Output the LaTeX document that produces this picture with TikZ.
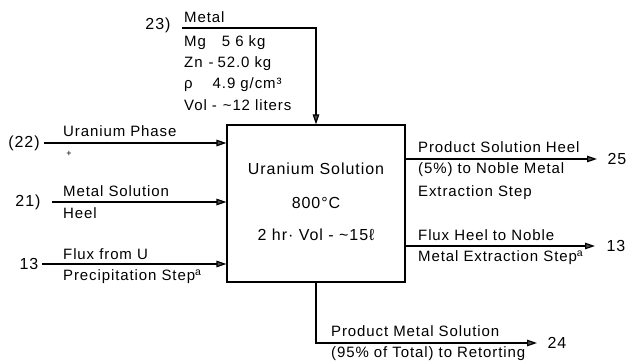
\documentclass[tikz,border=0pt]{standalone}
\usepackage{fontspec}
\setmainfont[LetterSpace=6]{Liberation Sans}
\usetikzlibrary{arrows.meta}
\begin{document}
\begin{tikzpicture}[x=1pt,y=1pt,
  every node/.style={font=\fontsize{15}{17}\selectfont, inner sep=0pt},
  lbl/.style={anchor=base west},
  num/.style={anchor=center, font=\fontsize{16}{18}\selectfont},
  boxtext/.style={font=\fontsize{16}{18}\selectfont},
  flow/.style={line width=1.2pt, -{Triangle[length=10pt,width=6.5pt,fill=black!70]}},
  procbox/.style={draw, line width=1.1pt, minimum width=178pt, minimum height=157pt}]
\useasboundingbox (0,0) rectangle (633,-363);
% process box
\node[procbox] (box) at (316,-203.5) {};
\node[boxtext] (t1) at (316,-169) {Uranium Solution};
\node[boxtext] (t2) at (316,-203) {800°C};
\node[boxtext] (t3) at (316,-235) {2 hr· Vol - \textasciitilde15ℓ};
% top input (23)
\node[num] (n23) at (158,-25) {23)};
\coordinate (m0) at (182,-28);
\draw[flow] (m0) -| (box.north);
\node[lbl] (mt) at (184,-23) {Metal};
\node[lbl] (mg) at (184,-47) {Mg\hspace{16pt}5 6 kg};
\node[lbl] (zn) at (184,-68) {Zn\hspace{6pt}-\hspace{4pt}52.0 kg};
\node[lbl] (rho) at (184,-89) {ρ\hspace{20pt}4.9 g/cm³};
\node[lbl] (vol) at (184,-111) {Vol\hspace{5pt}-\hspace{6pt}\textasciitilde12 liters};
% left inputs
\node[num] (n22) at (24,-143) {(22)};
\coordinate (s22) at (44,-143);
\draw[flow] (s22) -- (box.west |- s22);
\node[lbl] (l22a) at (63,-137) {Uranium Phase};
\node[anchor=center, font=\fontsize{9}{10}\selectfont] (l22b) at (69,-154) {+};
\node[num] (n21) at (28,-202) {21)};
\coordinate (s21) at (52,-202);
\draw[flow] (s21) -- (box.west |- s21);
\node[lbl] (l21a) at (63,-197) {Metal Solution};
\node[lbl] (l21b) at (63,-219) {Heel};
\node[num] (n13a) at (29,-264) {13};
\coordinate (s13) at (42,-264);
\draw[flow] (s13) -- (box.west |- s13);
\node[lbl] (l13a) at (63,-260) {Flux from U};
\node[lbl] (l13b) at (63,-281) {Precipitation Step\textsuperscript{a}};
% right outputs
\coordinate (e25) at (597,-159);
\draw[flow] (box.east |- e25) -- (e25);
\node[num] (n25) at (617,-159) {25};
\node[lbl] (r25a) at (418,-153) {Product Solution Heel};
\node[lbl] (r25b) at (418,-174) {(5\%) to Noble Metal};
\node[lbl] (r25c) at (418,-197) {Extraction Step};
\coordinate (e13) at (595,-246);
\draw[flow] (box.east |- e13) -- (e13);
\node[num] (n13b) at (616,-246) {13};
\node[lbl] (r13a) at (418,-241) {Flux Heel to Noble};
\node[lbl] (r13b) at (418,-262) {Metal Extraction Step\textsuperscript{a}};
% bottom output
\coordinate (e24) at (537,-343);
\draw[flow] (box.south) |- (e24);
\node[num] (n24) at (557,-343) {24};
\node[lbl] (b24a) at (331,-337) {Product Metal Solution};
\node[lbl] (b24b) at (331,-358) {(95\% of Total) to Retorting};
\end{tikzpicture}
\end{document}
